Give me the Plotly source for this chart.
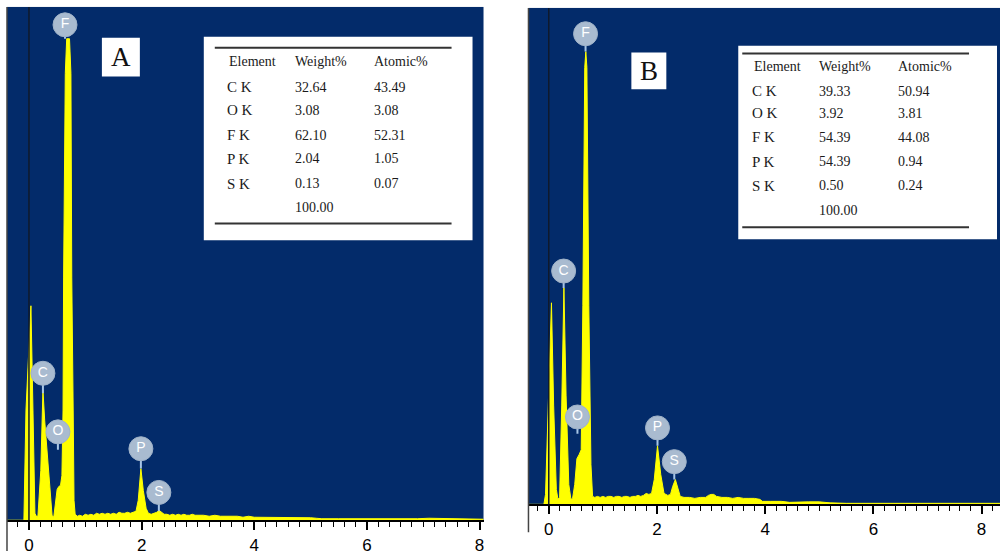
import plotly.graph_objects as go

W, H = 1001, 555

# ---------------- data ----------------
# Spectrum A (energy keV, counts)
energy_a = [-0.39, -0.09, -0.053, 0.035, 0.071, 0.106, 0.14,
            0.16, 0.21, 0.248, 0.28, 0.33, 0.38, 0.41, 0.44,
            0.47, 0.50, 0.53, 0.56, 0.585, 0.605, 0.615, 0.645, 0.67, 0.72, 0.745, 0.76, 0.785, 0.80, 0.82,
            0.86, 0.90, 0.95, 1.00, 1.05, 1.10, 1.15, 1.20, 1.25, 1.30, 1.35, 1.40, 1.45, 1.50, 1.55, 1.60,
            1.65, 1.70, 1.75, 1.80, 1.85, 1.90,
            1.94, 1.987, 2.03, 2.08, 2.12, 2.17, 2.22, 2.27, 2.31, 2.35, 2.40, 2.45, 2.50, 2.55, 2.60, 2.65,
            2.70, 2.75, 2.80, 2.85, 2.90, 2.95, 3.00, 3.10, 3.20, 3.30, 3.40, 3.50, 3.60, 3.70, 3.80, 3.90,
            4.00, 4.20, 4.40, 4.60, 4.80, 5.00, 5.10, 5.20, 5.50, 5.80, 6.00, 6.30, 6.60, 6.90, 7.10, 7.40,
            7.70, 8.07]
counts_a = [0, 0, 222, 432, 222, 14, 6,
            10, 100, 262, 200, 130, 50, 10, 6,
            30, 62, 68, 70, 90, 222, 488, 900, 970, 970, 900, 488, 222, 40, 12,
            8, 10, 8, 12, 10, 12, 10, 14, 12, 14, 12, 14, 12, 14, 12, 16,
            14, 14, 16, 14, 16, 18,
            40, 104, 60, 24, 14, 12, 14, 16, 20, 16, 12, 12, 10, 12, 10, 12,
            10, 12, 10, 10, 12, 10, 10, 10, 8, 10, 8, 8, 8, 8, 6, 8,
            6, 6, 5, 5, 5, 5, 4, 3, 3, 3, 2, 3, 2, 3, 4, 3,
            2, 2]

# Spectrum B (energy keV, counts)
energy_b = [-0.38, -0.09, -0.06, 0.00, 0.05, 0.09, 0.14, 0.17,
            0.20, 0.24, 0.28, 0.32, 0.37, 0.41, 0.44,
            0.48, 0.52, 0.56, 0.60, 0.63, 0.665, 0.685, 0.705, 0.74, 0.78, 0.81,
            0.85, 0.90, 0.95, 1.00, 1.05, 1.10, 1.15, 1.20, 1.25, 1.30, 1.35, 1.40, 1.45, 1.50, 1.55, 1.60,
            1.65, 1.70, 1.75, 1.80, 1.85, 1.90,
            1.95, 2.01, 2.07, 2.13, 2.20, 2.25, 2.29, 2.34, 2.39, 2.43, 2.50, 2.60, 2.70, 2.80, 2.90, 2.95,
            3.00, 3.05, 3.10, 3.20, 3.30, 3.40, 3.50, 3.60, 3.70, 3.80, 3.90, 3.95, 4.10, 4.30, 4.45, 4.60,
            4.80, 5.00, 5.20, 5.50, 6.00, 6.50, 7.00, 7.50, 8.00, 8.36]
counts_b = [0, 0, 20, 250, 406, 200, 30, 10,
            14, 200, 436, 220, 40, 10, 12,
            40, 92, 100, 110, 400, 880, 912, 880, 400, 80, 16,
            14, 16, 14, 16, 14, 16, 16, 14, 16, 16, 14, 16, 16, 14, 16, 16,
            18, 16, 18, 22, 20, 22,
            50, 118, 60, 22, 18, 20, 36, 50, 30, 16, 14, 14, 12, 14, 14, 18,
            20, 20, 16, 14, 14, 12, 14, 12, 12, 12, 10, 6, 6, 6, 4, 5,
            5, 5, 3, 2, 2, 2, 2, 2, 2, 2]

# Peak labels
peak_elements = ["F", "C", "O", "P", "S"]
label_e_a = [0.64, 0.248, 0.514, 1.987, 2.306]
label_c_a = [998, 296, 178, 144, 56]
peak_c_a = [970, 256, 142, 104, 18]
label_e_b = [0.68, 0.275, 0.53, 2.01, 2.32]
label_c_b = [948, 470, 176, 154, 86]
peak_c_b = [912, 436, 142, 118, 50]

# Tables
table_header = ["Element", "Weight%", "Atomic%"]
table_elements = ["C K", "O K", "F K", "P K", "S K"]
weight_a = ["32.64", "3.08", "62.10", "2.04", "0.13"]
atomic_a = ["43.49", "3.08", "52.31", "1.05", "0.07"]
weight_b = ["39.33", "3.92", "54.39", "54.39", "0.50"]
atomic_b = ["50.94", "3.81", "44.08", "0.94", "0.24"]
total = "100.00"

tick_vals = [0, 2, 4, 6, 8]

# ---------------- styling ----------------
NAVY = "rgb(3,43,106)"
YELLOW = "#FFFF00"
BUBBLE = "#A9BBD0"
STEM = "#A8C6E6"
SERIF = "Liberation Serif, Times New Roman, serif"
SANS = "Liberation Sans, Arial, sans-serif"


def px(x):
    return x / W


def py(y):
    return 1 - y / H


fig = go.Figure()


def add_panel(xa, ya, energy, counts, le, lc, pc):
    fig.add_trace(go.Scatter(x=energy, y=counts, xaxis=xa, yaxis=ya, mode="lines",
                             fill="tozeroy", fillcolor=YELLOW,
                             line=dict(color=YELLOW, width=1), hoverinfo="skip",
                             showlegend=False))
    sx, sy = [], []
    for e, l, p in zip(le, lc, pc):
        sx += [e, e, None]
        sy += [p, l, None]
    fig.add_trace(go.Scatter(x=sx, y=sy, xaxis=xa, yaxis=ya, mode="lines",
                             line=dict(color=STEM, width=2), hoverinfo="skip",
                             showlegend=False))
    fig.add_trace(go.Scatter(x=le, y=lc, xaxis=xa, yaxis=ya, mode="markers+text",
                             text=peak_elements, textposition="middle center",
                             textfont=dict(color="white", size=14, family=SANS),
                             marker=dict(size=24, color=BUBBLE,
                                         line=dict(color="#9FB2C8", width=1)),
                             cliponaxis=False, hoverinfo="skip", showlegend=False))


add_panel("x", "y", energy_a, counts_a, label_e_a, label_c_a, peak_c_a)
add_panel("x2", "y2", energy_b, counts_b, label_e_b, label_c_b, peak_c_b)

xcommon = dict(showgrid=False, zeroline=False, showline=True, linecolor="black", linewidth=2,
               ticks="outside", tickvals=tick_vals, ticklen=8, tickwidth=1.5, tickcolor="black",
               tickfont=dict(family=SANS, size=17, color="black"),
               minor=dict(dtick=0.2, ticks="outside", ticklen=5, tickwidth=1.2, tickcolor="black"),
               fixedrange=True)
ycommon = dict(visible=False, showgrid=False, zeroline=False, fixedrange=True)

fig.update_layout(
    width=W, height=H, margin=dict(l=0, r=0, t=0, b=0),
    paper_bgcolor="white", plot_bgcolor=NAVY,
    xaxis=dict(domain=[px(7), px(484)], range=[-0.39, 8.07], anchor="y", **xcommon),
    yaxis=dict(domain=[py(524), py(7)], range=[0, 1034], anchor="x", **ycommon),
    xaxis2=dict(domain=[px(529), 1.0], range=[-0.375, 8.34], anchor="y2", **xcommon),
    yaxis2=dict(domain=[py(508), py(8)], range=[0, 1000], anchor="x2", **ycommon),
)

shapes = []
annotations = []

# zero lines and left frame lines
for xr, yr in (("x", "y"), ("x2", "y2")):
    shapes.append(dict(type="line", xref=xr, yref=yr + " domain", x0=0, x1=0, y0=0, y1=1,
                       line=dict(color="#101a2c", width=1.5), layer="above"))
shapes.append(dict(type="line", xref="paper", yref="paper", x0=px(7), x1=px(7), y0=0, y1=py(7),
                   line=dict(color="#444", width=1.5)))
shapes.append(dict(type="line", xref="paper", yref="paper", x0=px(529), x1=px(529), y0=py(536),
                   y1=py(8), line=dict(color="#444", width=1.5)))

# panel letters
for (x0, x1, y0, y1, letter) in ((102, 140, 38, 77, "A"), (632, 667, 53, 90, "B")):
    shapes.append(dict(type="rect", xref="paper", yref="paper", x0=px(x0), x1=px(x1),
                       y0=py(y1), y1=py(y0), fillcolor="white", line=dict(width=0)))
    annotations.append(dict(xref="paper", yref="paper", x=px((x0 + x1) / 2), y=py((y0 + y1) / 2),
                            text=letter, showarrow=False, xanchor="center", yanchor="middle",
                            font=dict(family=SERIF, size=27, color="#111")))


def add_table(box, rules, rule_x, cols, rows_y, weight, atomic):
    bx0, bx1, by0, by1 = box
    shapes.append(dict(type="rect", xref="paper", yref="paper", x0=px(bx0), x1=px(bx1),
                       y0=py(by1), y1=py(by0), fillcolor="white", line=dict(width=0)))
    for ry in rules:
        shapes.append(dict(type="line", xref="paper", yref="paper", x0=px(rule_x[0]),
                           x1=px(rule_x[1]), y0=py(ry), y1=py(ry),
                           line=dict(color="#333", width=2)))

    def txt(x, y, s, size=14):
        annotations.append(dict(xref="paper", yref="paper", x=px(x), y=py(y), text=s,
                                showarrow=False, xanchor="left", yanchor="middle",
                                font=dict(family=SERIF, size=size, color="#1a1a1a")))

    for c, s in zip(cols, table_header):
        txt(c, rows_y[0], s)
    for i, el in enumerate(table_elements):
        txt(cols[0] - 2, rows_y[i + 1], el, 15)
        txt(cols[1], rows_y[i + 1], weight[i])
        txt(cols[2], rows_y[i + 1], atomic[i])
    txt(cols[1], rows_y[-1], total)


add_table((204, 473, 37, 242), (48, 225), (215, 452), (227, 293, 372),
          (62, 88, 111, 136, 160, 185, 209), weight_a, atomic_a)
add_table((739, 998, 46, 241), (54, 229), (743, 970), (753, 818, 897),
          (67, 92, 114, 138, 163, 187, 212), weight_b, atomic_b)

fig.update_layout(shapes=shapes, annotations=annotations)
fig.write_html("out.html", config={"displayModeBar": False},
               post_script="document.body.style.margin='0px';document.body.style.overflow='hidden';")
